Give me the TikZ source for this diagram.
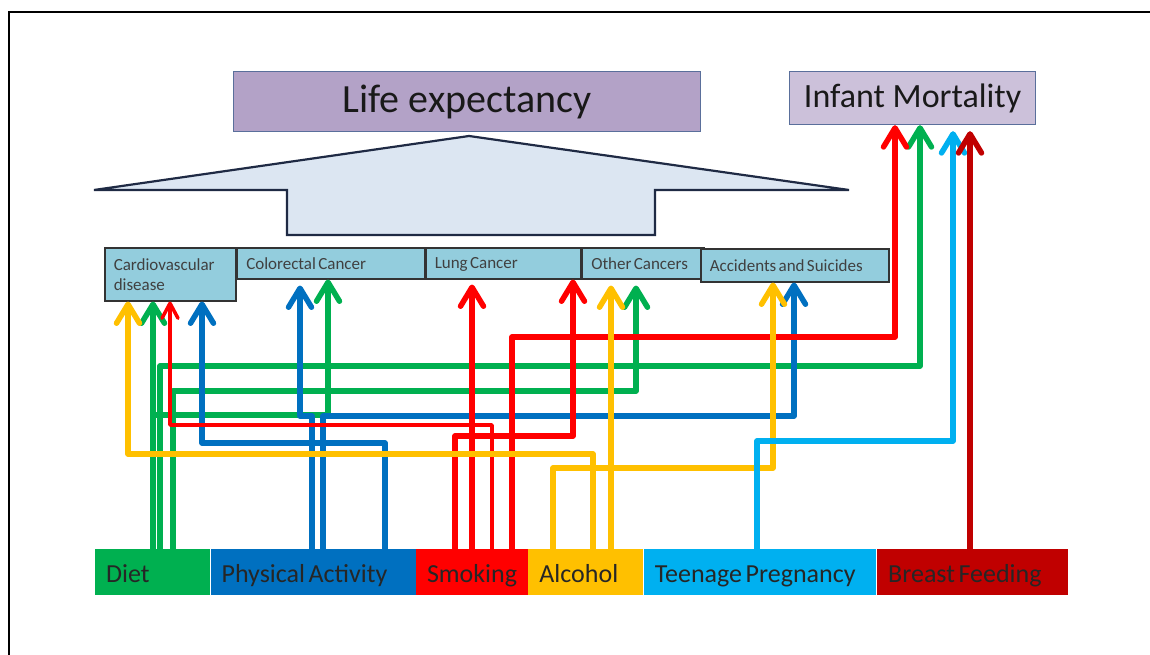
\documentclass[tikz,border=0pt]{standalone}
\usepackage{fontspec}
\setmainfont{Carlito}
\usetikzlibrary{arrows.meta, positioning, calc}
\definecolor{dietcol}{HTML}{00B050}
\definecolor{actcol}{HTML}{0070C0}
\definecolor{smokecol}{HTML}{FF0000}
\definecolor{alccol}{HTML}{FFC000}
\definecolor{teencol}{HTML}{00B0F0}
\definecolor{breastcol}{HTML}{C00000}
\definecolor{discol}{HTML}{93CDDD}
\definecolor{lifecol}{HTML}{B3A2C7}
\definecolor{infcol}{HTML}{CCC1DA}
\definecolor{bigarrcol}{HTML}{DCE6F2}
\definecolor{edgecol}{HTML}{5A6F9B}
\definecolor{navycol}{HTML}{1F2A44}

\begin{document}
\begin{tikzpicture}[x=1pt, y=-1pt,
  tightspace/.style={execute at begin node={\spaceskip=0.6\fontdimen2\font\relax}},
  outcome/.style={draw=edgecol, line width=1.2pt, anchor=north west, inner sep=0pt, text=black!90},
  disbox/.style={draw=black!80, fill=discol, line width=1.5pt, anchor=north west, inner xsep=9pt, inner ysep=0pt, align=left, minimum height=31pt, text depth=0pt, font=\fontsize{17}{20}\selectfont, text=black!75, tightspace},
  factor/.style={anchor=north west, inner xsep=11pt, inner ysep=0pt, minimum height=46pt, align=left, text height=21pt, text depth=1pt, font=\fontsize{26}{30}\selectfont, text=black!85, tightspace},
  link/.style={line width=5.5pt, line join=round, -{Straight Barb[length=19pt, width=23pt, round]}},
  thinlink/.style={line width=3.5pt, line join=round, -{Straight Barb[length=15pt, width=16pt, round]}}
]
\useasboundingbox (0,0) rectangle (1150,655);
\draw[line width=1.5pt] (9,655) -- (9,12) -- (1150,12);

\node[outcome, fill=lifecol, minimum width=467pt, minimum height=60pt, font=\fontsize{40}{44}\selectfont] (life) at (233,71) {Life expectancy};
\node[outcome, fill=infcol, minimum width=246pt, minimum height=53pt, font=\fontsize{34}{40}\selectfont] (infant) at (789,71) {Infant Mortality};

\filldraw[fill=bigarrcol, draw=navycol, line width=2.2pt] (469,136) -- (849,190) -- (655,190) -- (655,235) -- (287,235) -- (287,190) -- (94,190) -- cycle;

\node[disbox, text width=113pt, minimum height=53pt, text depth=20pt] (cvd) at (104,247) {Cardiovascular\\disease};
\node[disbox, text width=169pt] (colo) at (cvd.north east) {Colorectal Cancer};
\node[disbox, text width=137pt] (lung) at (colo.north east) {Lung Cancer};
\node[disbox, text width=104pt] (other) at (lung.north east) {Other Cancers};
\node[disbox, text width=170pt, minimum height=33pt] (acc) at (700,248) {Accidents and Suicides};

\draw[link, dietcol] (153,549) -- (cvd.south -| 153,0);
\draw[link, dietcol] (153,549) |- (328,415) -- (colo.south -| 328,0);
\draw[link, dietcol] (160,549) |- (920,366) -- (infant.south -| 920,0);
\draw[link, dietcol, shorten >=6pt] (173,549) |- (636,391) -- (other.south -| 636,0);

\draw[link, actcol] (385,549) |- (202,443) -- (cvd.south -| 202,0);
\draw[link, actcol, shorten >=6pt] (312,549) |- (300,416) -- (colo.south -| 300,0);
\draw[link, actcol] (323,549) |- (794,416) -- (acc.south -| 794,0);

\draw[link, smokecol, shorten >=5pt] (472,549) -- (lung.south -| 472,0);
\draw[thinlink, smokecol] (492,549) |- (170,425) -- (cvd.south -| 170,0);
\draw[link, smokecol] (455,549) |- (573,436) -- (lung.south -| 573,0);
\draw[link, smokecol] (512,549) |- (895,337) -- (infant.south -| 895,0);

\draw[link, alccol] (593,549) |- (128,454) -- (cvd.south -| 128,0);
\draw[link, alccol, shorten >=6pt] (611,549) -- (other.south -| 611,0);
\draw[link, alccol] (553,549) |- (773,468) -- (acc.south -| 773,0);

\draw[link, teencol, shorten >=6pt] (757,549) |- (953,441) -- (infant.south -| 953,0);
\draw[link, breastcol, shorten >=6pt] (970,549) -- (infant.south -| 970,0);

\node[factor, fill=dietcol, text width=93pt] (diet) at (95,549) {Diet};
\node[factor, fill=actcol, text width=183pt] (act) at (diet.north east) {Physical Activity};
\node[factor, fill=smokecol, text width=90pt] (smoke) at (act.north east) {Smoking};
\node[factor, fill=alccol, text width=93pt] (alc) at (smoke.north east) {Alcohol};
\node[factor, fill=teencol, text width=210pt] (teen) at (alc.north east) {Teenage Pregnancy};
\node[factor, fill=breastcol, text width=169pt] (breast) at (877,549) {Breast Feeding};
\end{tikzpicture}
\end{document}
